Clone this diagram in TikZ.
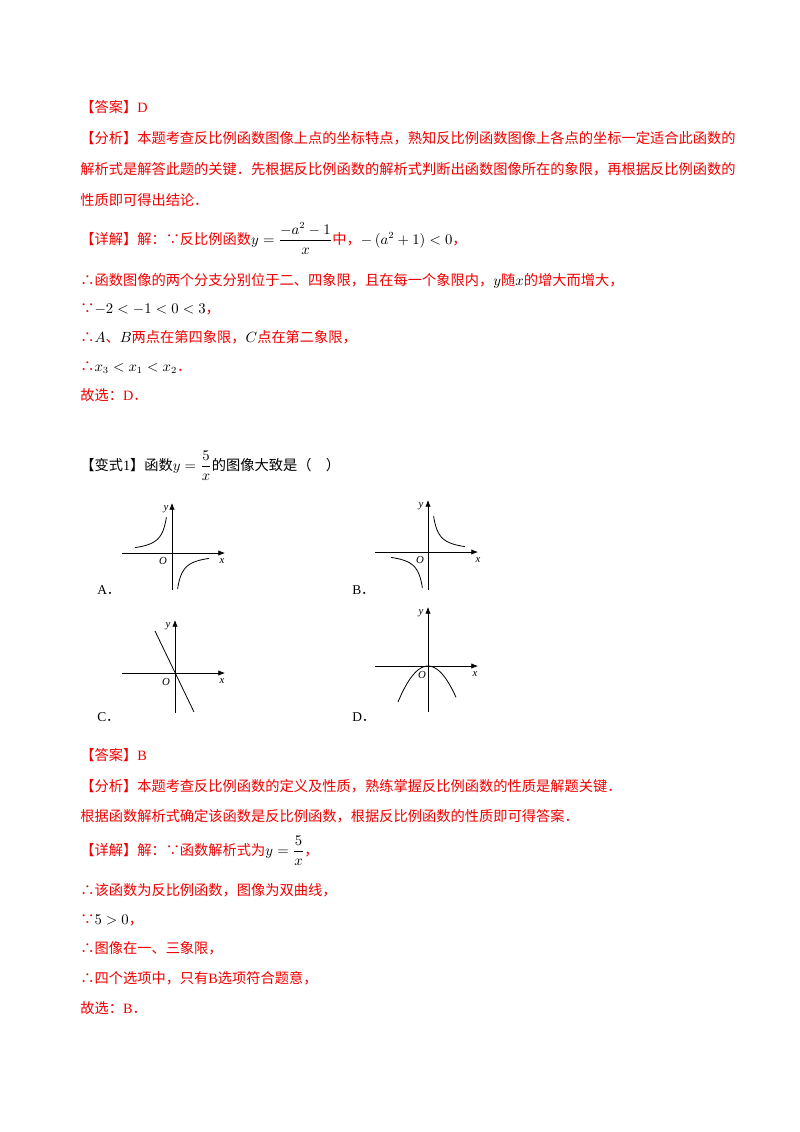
\documentclass[tikz,border=0pt]{standalone}
\usepackage{amsmath}
\usepackage{fontspec}
\setmainfont{Noto Sans CJK SC}
\newfontfamily\lat{Liberation Serif}
\definecolor{ansred}{RGB}{240,0,0}
\newcommand{\blk}[1]{\textcolor{black}{#1}}
\tikzset{
  line/.style={anchor=base west, text=ansred, font=\fontsize{10.6}{13}\selectfont, inner sep=0pt},
  qline/.style={line, text=black},
  axis/.style={-{Latex[length=5pt,width=4pt]}, line width=0.5pt},
  curve/.style={line width=0.6pt},
  lbl/.style={font=\lat\itshape\fontsize{8}{9}\selectfont, inner sep=1pt},
  opt/.style={anchor=base west, font=\fontsize{10}{12}\selectfont, inner sep=0pt}
}
\usetikzlibrary{arrows.meta}
\begin{document}
\begin{tikzpicture}[x=0.744pt, y=-0.744pt]

  \useasboundingbox[fill=white] (0,0) rectangle (800,1132);

  % first answer
  \node[line] (ans1) at (80,112) {【答案】{\lat D}};
  \node[line] (ana1) at (80,143) {【分析】本题考查反比例函数图像上点的坐标特点，熟知反比例函数图像上各点的坐标一定适合此函数的};
  \node[line] (ana2) at (80,174) {解析式是解答此题的关键．先根据反比例函数的解析式判断出函数图像所在的象限，再根据反比例函数的};
  \node[line] (ana3) at (80,205) {性质即可得出结论．};
  \node[line] (det1) at (80,244) {【详解】解：∵反比例函数\blk{$y=\dfrac{-a^2-1}{x}$}中，\blk{$-\left(a^2+1\right)<0$}，};
  \node[line] (det2) at (80,285) {∴函数图像的两个分支分别位于二、四象限，且在每一个象限内，\blk{$y$}随\blk{$x$}的增大而增大，};
  \node[line] (det3) at (80,313) {∵\blk{$-2<-1<0<3$}，};
  \node[line] (det4) at (80,342) {∴\blk{$A$}、\blk{$B$}两点在第四象限，\blk{$C$}点在第二象限，};
  \node[line] (det5) at (80,371) {∴\blk{$x_3<x_1<x_2$}．};
  \node[line] (det6) at (80,400) {故选：{\lat D}．};

  % question
  \node[qline] (qst) at (80,470) {【变式{\lat 1}】函数$y=\dfrac{5}{x}$的图像大致是（\quad）};

  % graph A
  \begin{scope}[shift={(172,553)}, yscale=-1]
    \draw[axis] (-50,0) -- (53,0);
    \draw[axis] (0,-37) -- (0,50);
    \draw[curve] plot[domain=-37:-5.6, samples=40] (\x,{-200/\x});
    \draw[curve] plot[domain=5.6:37, samples=40] (\x,{-200/\x});
    \node[lbl] (ax) at (50,-8) {x};
    \node[lbl] (ay) at (-6,44) {y};
    \node[lbl] (ao) at (-9,-8) {O};
  \end{scope}
  \node[opt] (optA) at (97,594) {{\lat A}．};

  % graph B
  \begin{scope}[shift={(428,552)}, yscale=-1]
    \draw[axis] (-53,0) -- (50,0);
    \draw[axis] (0,-38) -- (0,52);
    \draw[curve] plot[domain=-37:-5.6, samples=40] (\x,{200/\x});
    \draw[curve] plot[domain=5.6:37, samples=40] (\x,{200/\x});
    \node[lbl] (bx) at (50,-8) {x};
    \node[lbl] (by) at (-7,46) {y};
    \node[lbl] (bo) at (-8,-8) {O};
  \end{scope}
  \node[opt] (optB) at (352,594) {{\lat B}．};

  % graph C
  \begin{scope}[shift={(175,673)}, yscale=-1]
    \draw[axis] (-53,0) -- (50,0);
    \draw[axis] (0,-40) -- (0,53);
    \draw[curve] (-20,42) -- (19,-39);
    \node[lbl] (cx) at (47,-8) {x};
    \node[lbl] (cy) at (-7,47) {y};
    \node[lbl] (co) at (-9,-9) {O};
  \end{scope}
  \node[opt] (optC) at (97,721) {{\lat C}．};

  % graph D
  \begin{scope}[shift={(428,666)}, yscale=-1]
    \draw[axis] (-53,0) -- (50,0);
    \draw[axis] (0,-46) -- (0,59);
    \draw[curve] plot[domain=-30:28, samples=50] (\x,{-0.04*\x*\x});
    \node[lbl] (dx) at (47,-8) {x};
    \node[lbl] (dy) at (-7,53) {y};
    \node[lbl] (do) at (-6,-9) {O};
  \end{scope}
  \node[opt] (optD) at (352,721) {{\lat D}．};

  % second answer
  \node[line] (ans2) at (80,760) {【答案】{\lat B}};
  \node[line] (anb1) at (80,791) {【分析】本题考查反比例函数的定义及性质，熟练掌握反比例函数的性质是解题关键．};
  \node[line] (anb2) at (80,821) {根据函数解析式确定该函数是反比例函数，根据反比例函数的性质即可得答案．};
  \node[line] (deb1) at (80,855) {【详解】解：∵函数解析式为\blk{$y=\dfrac{5}{x}$}，};
  \node[line] (deb2) at (80,895) {∴该函数为反比例函数，图像为双曲线，};
  \node[line] (deb3) at (80,924) {∵\blk{$5>0$}，};
  \node[line] (deb4) at (80,953) {∴图像在一、三象限，};
  \node[line] (deb5) at (80,983) {∴四个选项中，只有{\lat B}选项符合题意，};
  \node[line] (deb6) at (80,1013) {故选：{\lat B}．};

\end{tikzpicture}
\end{document}
